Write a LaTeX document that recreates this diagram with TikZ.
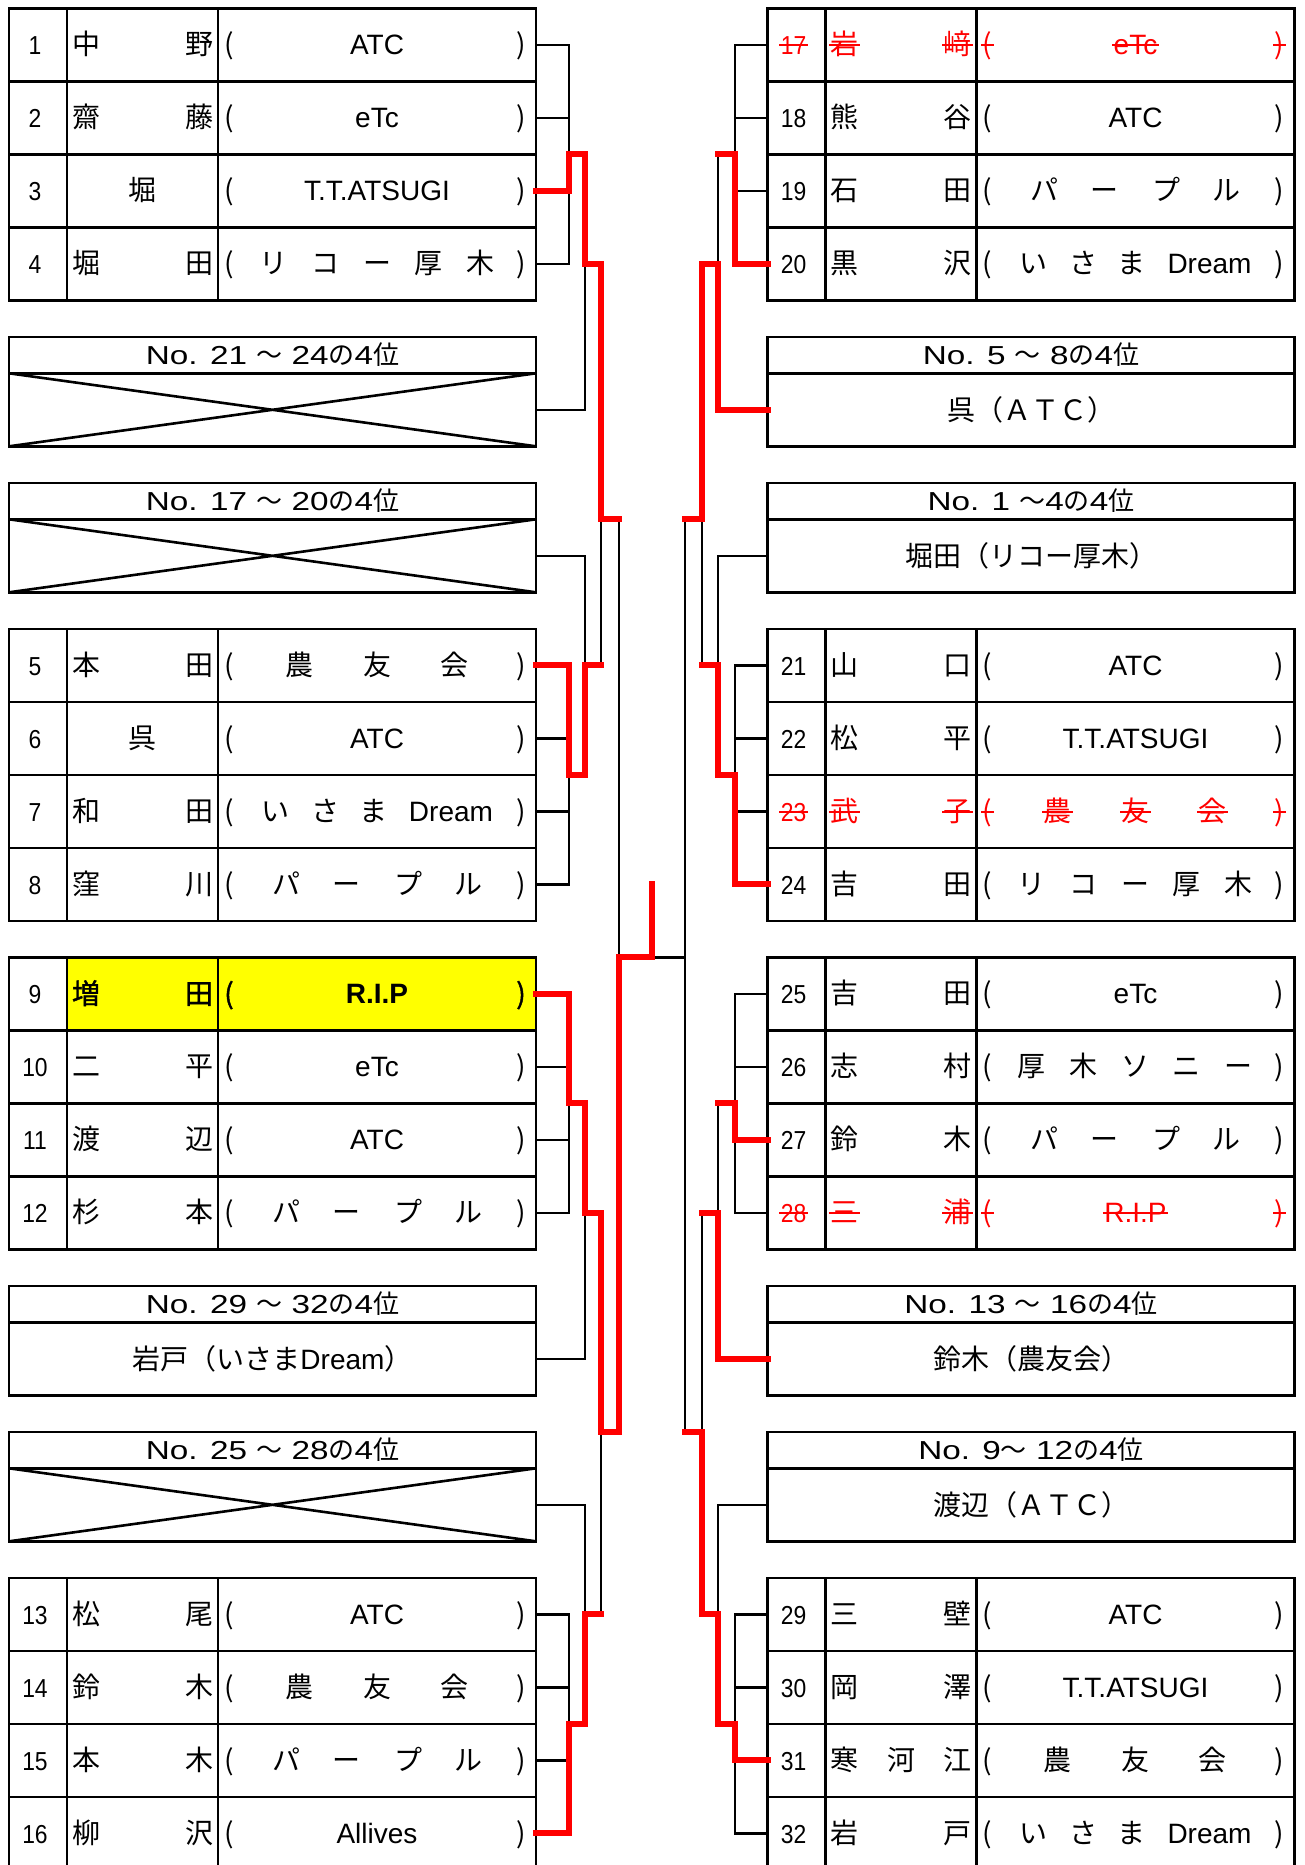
\documentclass[tikz,border=0pt]{standalone}
\usepackage{fontspec}
\setmainfont{Noto Sans CJK JP}
\newfontfamily\lat{Liberation Sans}
\newfontfamily\numf{Liberation Sans}[FakeStretch=0.88]
\newfontfamily\hdrl{Liberation Sans}[FakeStretch=1.28]
\newfontfamily\jpbold{Noto Sans CJK JP}[FakeBold=1.5]
\definecolor{winred}{RGB}{255,0,0}
\definecolor{hiyel}{RGB}{255,255,0}
\newcommand\fsz{\fontsize{28pt}{30pt}\selectfont}
\newcommand\fnum{\numf\fontsize{26pt}{30pt}\selectfont}
\newcommand\fhdr{\fontsize{26pt}{28pt}\selectfont}
\newcommand\fbody{\fontsize{28pt}{30pt}\selectfont}
\def\rowcol{black}
\def\pf{}
\tikzset{
 tx/.style={inner sep=0pt, outer sep=0pt, anchor=base, text=\rowcol, font=\fsz},
 rowbox/.style={draw, line width=2.6pt, minimum width=527pt, minimum height=73pt, inner sep=0pt, outer sep=0pt},
 hbox/.style={draw, line width=2.6pt, minimum width=527pt, minimum height=36.5pt, inner sep=0pt, outer sep=0pt, font=\fhdr},
 bbox/.style={draw, line width=2.6pt, minimum width=527pt, minimum height=73pt, inner sep=0pt, outer sep=0pt},
 btxt/.style={inner sep=0pt, font=\fbody},
 tab/.style={line width=2.6pt},
 br/.style={line width=2.4pt, black},
 win/.style={line width=6pt, winred, line cap=rect, line join=miter},
 strk/.style={line width=1.8pt, winred},
}
% row: id, x0, y-centre, number
\newcommand\Rw[4]{%
 \def\rid{#1}\def\rx{#2}\def\ry{#3}%
 \node[rowbox] (row#1) at ({#2+263.5},#3) {};
 \draw[tab] ({#2+58},{#3-36.5}) -- ({#2+58},{#3+36.5}) ({#2+209},{#3-36.5}) -- ({#2+209},{#3+36.5});
 \node[tx,font=\fnum] (num#1) at ({#2+26},{#3+10}) {#4};
 \node[tx] (cl#1) at ({#2+220},{#3+10}) {\pf(};
 \node[tx] (cr#1) at ({#2+512},{#3+10}) {\pf)};
}
\newcommand\NmTwo[2]{\node[tx] (na\rid) at ({\rx+77},{\ry+10}) {#1};\node[tx] (nb\rid) at ({\rx+190},{\ry+10}) {#2};}
\newcommand\NmOne[1]{\node[tx] (na\rid) at ({\rx+133.5},{\ry+10}) {#1};}
\newcommand\NmThree[3]{\node[tx] (na\rid) at ({\rx+77},{\ry+10}) {#1};\node[tx] (nm\rid) at ({\rx+133.5},{\ry+10}) {#2};\node[tx] (nb\rid) at ({\rx+190},{\ry+10}) {#3};}
\newcommand\ClOne[1]{\node[tx,font=\fsz\lat] (ca\rid) at ({\rx+368},{\ry+10}) {#1};}
\newcommand\ClThree[3]{\node[tx] (ca\rid) at ({\rx+290},{\ry+10}) {#1};\node[tx] (cb\rid) at ({\rx+368},{\ry+10}) {#2};\node[tx] (cc\rid) at ({\rx+445},{\ry+10}) {#3};}
\newcommand\ClFour[4]{\node[tx] (ca\rid) at ({\rx+277},{\ry+10}) {#1};\node[tx] (cb\rid) at ({\rx+337},{\ry+10}) {#2};\node[tx] (cc\rid) at ({\rx+399},{\ry+10}) {#3};\node[tx] (cd\rid) at ({\rx+459},{\ry+10}) {#4};}
\newcommand\ClFive[5]{\node[tx] (ca\rid) at ({\rx+264},{\ry+10}) {#1};\node[tx] (cb\rid) at ({\rx+316},{\ry+10}) {#2};\node[tx] (cc\rid) at ({\rx+368},{\ry+10}) {#3};\node[tx] (cd\rid) at ({\rx+419},{\ry+10}) {#4};\node[tx] (ce\rid) at ({\rx+471},{\ry+10}) {#5};}
\newcommand\ClDream{\node[tx] (ca\rid) at ({\rx+266},{\ry+10}) {い};\node[tx] (cb\rid) at ({\rx+316},{\ry+10}) {さ};\node[tx] (cc\rid) at ({\rx+364},{\ry+10}) {ま};\node[tx,font=\fsz\lat] (cd\rid) at ({\rx+442},{\ry+10}) {Dream};}
% box: id, x0, top, header
\newcommand\Bx[4]{%
 \node[hbox] (bh#1) at ({#2+263.5},{#3+18.25}) {#4};
 \node[bbox] (bb#1) at ({#2+263.5},{#3+73}) {};
}
\newcommand\Xs[1]{\draw[tab] (bb#1.north west) -- (bb#1.south east) (bb#1.south west) -- (bb#1.north east);}
\newcommand\Strk[1]{\draw[strk] ([yshift=9.5pt,xshift=-1.5pt]#1.base west) -- ([yshift=9.5pt,xshift=1.5pt]#1.base east);}

\begin{document}
\begin{tikzpicture}[x=1pt,y=-1pt]
\fill[white] (0,0) rectangle (1305,1865);
\useasboundingbox (0,0) rectangle (1305,1865);
\fill[hiyel] (67,957.3) rectangle (536,1030.3);

% ---------- left tables ----------
\Rw{1}{9}{44.8}{1}\NmTwo{中}{野}\ClOne{ATC}
\Rw{2}{9}{117.8}{2}\NmTwo{齋}{藤}\ClOne{eTc}
\Rw{3}{9}{190.8}{3}\NmOne{堀}\ClOne{T.T.ATSUGI}
\Rw{4}{9}{263.8}{4}\NmTwo{堀}{田}\ClFive{リ}{コ}{ー}{厚}{木}
\Rw{5}{9}{665.3}{5}\NmTwo{本}{田}\ClThree{農}{友}{会}
\Rw{6}{9}{738.3}{6}\NmOne{呉}\ClOne{ATC}
\Rw{7}{9}{811.3}{7}\NmTwo{和}{田}\ClDream
\Rw{8}{9}{884.3}{8}\NmTwo{窪}{川}\ClFour{パ}{ー}{プ}{ル}
\def\pf{\jpbold}
\Rw{9}{9}{993.8}{9}\NmTwo{\jpbold 増}{\jpbold 田}\ClOne{\bfseries R.I.P}
\def\pf{}
\Rw{10}{9}{1066.8}{10}\NmTwo{二}{平}\ClOne{eTc}
\Rw{11}{9}{1139.8}{11}\NmTwo{渡}{辺}\ClOne{ATC}
\Rw{12}{9}{1212.8}{12}\NmTwo{杉}{本}\ClFour{パ}{ー}{プ}{ル}
\Rw{13}{9}{1614.3}{13}\NmTwo{松}{尾}\ClOne{ATC}
\Rw{14}{9}{1687.3}{14}\NmTwo{鈴}{木}\ClThree{農}{友}{会}
\Rw{15}{9}{1760.3}{15}\NmTwo{本}{木}\ClFour{パ}{ー}{プ}{ル}
\Rw{16}{9}{1833.3}{16}\NmTwo{柳}{沢}\ClOne{Allives}

% ---------- right tables ----------
\def\rowcol{winred}
\Rw{17}{767.5}{44.8}{17}\NmTwo{岩}{﨑}\ClOne{eTc}
\def\rowcol{black}
\Rw{18}{767.5}{117.8}{18}\NmTwo{熊}{谷}\ClOne{ATC}
\Rw{19}{767.5}{190.8}{19}\NmTwo{石}{田}\ClFour{パ}{ー}{プ}{ル}
\Rw{20}{767.5}{263.8}{20}\NmTwo{黒}{沢}\ClDream
\Rw{21}{767.5}{665.3}{21}\NmTwo{山}{口}\ClOne{ATC}
\Rw{22}{767.5}{738.3}{22}\NmTwo{松}{平}\ClOne{T.T.ATSUGI}
\def\rowcol{winred}
\Rw{23}{767.5}{811.3}{23}\NmTwo{武}{子}\ClThree{農}{友}{会}
\def\rowcol{black}
\Rw{24}{767.5}{884.3}{24}\NmTwo{吉}{田}\ClFive{リ}{コ}{ー}{厚}{木}
\Rw{25}{767.5}{993.8}{25}\NmTwo{吉}{田}\ClOne{eTc}
\Rw{26}{767.5}{1066.8}{26}\NmTwo{志}{村}\ClFive{厚}{木}{ソ}{ニ}{ー}
\Rw{27}{767.5}{1139.8}{27}\NmTwo{鈴}{木}\ClFour{パ}{ー}{プ}{ル}
\def\rowcol{winred}
\Rw{28}{767.5}{1212.8}{28}\NmTwo{三}{浦}\ClOne{R.I.P}
\def\rowcol{black}
\Rw{29}{767.5}{1614.3}{29}\NmTwo{三}{壁}\ClOne{ATC}
\Rw{30}{767.5}{1687.3}{30}\NmTwo{岡}{澤}\ClOne{T.T.ATSUGI}
\Rw{31}{767.5}{1760.3}{31}\NmThree{寒}{河}{江}\ClThree{農}{友}{会}
\Rw{32}{767.5}{1833.3}{32}\NmTwo{岩}{戸}\ClDream

\foreach \n in {num17,na17,nb17,cl17,cr17,ca17} {\Strk{\n}}
\foreach \n in {num23,na23,nb23,cl23,cr23,ca23,cb23,cc23} {\Strk{\n}}
\foreach \n in {num28,na28,nb28,cl28,cr28,ca28} {\Strk{\n}}

% ---------- boxes ----------
\Bx{21}{9}{336.8}{{\hdrl No. 21 }～{\hdrl\ 24}の{\hdrl 4}位}
\Bx{17}{9}{482.8}{{\hdrl No. 17 }～{\hdrl\ 20}の{\hdrl 4}位}
\Bx{29}{9}{1285.8}{{\hdrl No. 29 }～{\hdrl\ 32}の{\hdrl 4}位}
\Bx{25}{9}{1431.8}{{\hdrl No. 25 }～{\hdrl\ 28}の{\hdrl 4}位}
\Bx{5}{767.5}{336.8}{{\hdrl No. 5 }～{\hdrl\ 8}の{\hdrl 4}位}
\Bx{1}{767.5}{482.8}{{\hdrl No. 1 }～{\hdrl 4}の{\hdrl 4}位}
\Bx{13}{767.5}{1285.8}{{\hdrl No. 13 }～{\hdrl\ 16}の{\hdrl 4}位}
\Bx{9}{767.5}{1431.8}{{\hdrl No. 9}～{\hdrl\ 12}の{\hdrl 4}位}
\Xs{21}\Xs{17}\Xs{25}
\node[btxt] (bt29) at (bb29) {岩戸（いさま{\lat Dream}）};
\node[btxt] (bt5) at (bb5) {呉（ＡＴＣ）};
\node[btxt] (bt1) at (bb1) {堀田（リコー厚木）};
\node[btxt] (bt13) at (bb13) {鈴木（農友会）};
\node[btxt] (bt9) at (bb9) {渡辺（ＡＴＣ）};

% ---------- bracket columns ----------
\coordinate (L1) at (569,0);
\coordinate (L2) at (585,0);
\coordinate (L3) at (601,0);
\coordinate (L4) at (619,0);
\coordinate (F) at (652,0);
\coordinate (R4) at (685,0);
\coordinate (R3) at (702,0);
\coordinate (R2) at (718,0);
\coordinate (R1) at (735,0);

% ---------- black brackets, left ----------
\foreach \a/\b in {1/4,5/8,9/12,13/16}{
  \draw[br] (row\a.east) -- (row\a.east -| L1) -- (row\b.east -| L1) -- (row\b.east);
}
\foreach \r in {2,3,6,7,10,11,14,15}{\draw[br] (row\r.east) -- (row\r.east -| L1);}
\draw[br] (row2.south -| L1) -- (row2.south -| L2) -- (bb21.east -| L2) -- (bb21.east);
\draw[br] (bb17.east) -- (bb17.east -| L2) -- (row6.south -| L2) -- (row6.south -| L1);
\draw[br] (row10.south -| L1) -- (row10.south -| L2) -- (bb29.east -| L2) -- (bb29.east);
\draw[br] (bb25.east) -- (bb25.east -| L2) -- (row14.south -| L2) -- (row14.south -| L1);
\draw[br] (row4.east -| L2) -- (row4.east -| L3) -- (row5.east -| L3) -- (row5.east -| L2);
\draw[br] (row12.east -| L2) -- (row12.east -| L3) -- (row13.east -| L3) -- (row13.east -| L2);
\draw[br] (bh17.south -| L3) -- (bh17.south -| L4) -- (bh25.north -| L4) -- (bh25.north -| L3);
\draw[br] (row9.north -| L4) -- (row9.north -| R4);

% ---------- black brackets, right ----------
\foreach \a/\b in {17/20,21/24,25/28,29/32}{
  \draw[br] (row\a.west) -- (row\a.west -| R1) -- (row\b.west -| R1) -- (row\b.west);
}
\foreach \r in {18,19,22,23,26,27,30,31}{\draw[br] (row\r.west) -- (row\r.west -| R1);}
\draw[br] (row18.south -| R1) -- (row18.south -| R2) -- (bb5.west -| R2) -- (bb5.west);
\draw[br] (bb1.west) -- (bb1.west -| R2) -- (row22.south -| R2) -- (row22.south -| R1);
\draw[br] (row26.south -| R1) -- (row26.south -| R2) -- (bb13.west -| R2) -- (bb13.west);
\draw[br] (bb9.west) -- (bb9.west -| R2) -- (row30.south -| R2) -- (row30.south -| R1);
\draw[br] (row20.west -| R2) -- (row20.west -| R3) -- (row21.west -| R3) -- (row21.west -| R2);
\draw[br] (row28.west -| R2) -- (row28.west -| R3) -- (row29.west -| R3) -- (row29.west -| R2);
\draw[br] (bh1.south -| R3) -- (bh1.south -| R4) -- (bh9.north -| R4) -- (bh9.north -| R3);

% ---------- winners (red) ----------
\draw[win] (row3.east) -| (row2.south -| L1) -- (row2.south -| L2) -- (row4.east -| L2) -- (row4.east -| L3) -- (bh17.south -| L3) -- (bh17.south -| L4);
\draw[win] (row5.east) -| (row6.south -| L1) -- (row6.south -| L2) -- (row5.east -| L2) -- (row5.east -| L3);
\draw[win] (row9.east) -| (row10.south -| L1) -- (row10.south -| L2) -- (row12.east -| L2) -- (row12.east -| L3) -- (bh25.north -| L3) -- (bh25.north -| L4) -- (row9.north -| L4) -- (row9.north -| F) -- (row8.east -| F);
\draw[win] (row16.east) -| (row14.south -| L1) -- (row14.south -| L2) -- (row13.east -| L2) -- (row13.east -| L3);
\draw[win] (row20.west) -| (row18.south -| R1) -- (row18.south -| R2);
\draw[win] (bb5.west) -| (row20.west -| R2) -- (row20.west -| R3) -- (bh1.south -| R3) -- (bh1.south -| R4);
\draw[win] (row24.west) -| (row22.south -| R1) -- (row22.south -| R2) -- (row21.west -| R2) -- (row21.west -| R3);
\draw[win] (row27.west) -| (row26.south -| R1) -- (row26.south -| R2);
\draw[win] (bb13.west) -| (row28.west -| R2) -- (row28.west -| R3);
\draw[win] (row31.west) -| (row30.south -| R1) -- (row30.south -| R2) -- (row29.west -| R2) -- (row29.west -| R3) -- (bh9.north -| R3) -- (bh9.north -| R4);
\end{tikzpicture}
\end{document}
